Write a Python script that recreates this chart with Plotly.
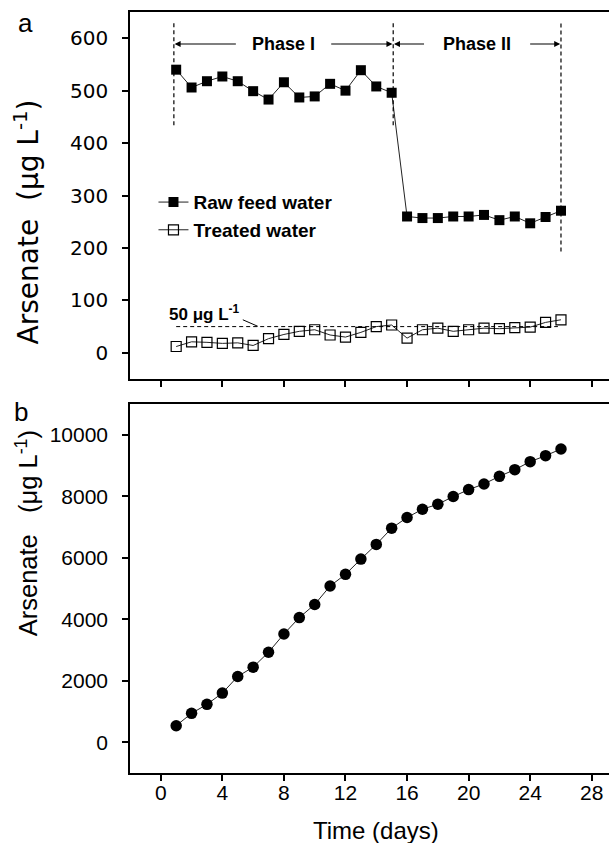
import plotly.graph_objects as go

# ---------------- data ----------------
days = list(range(1, 27))
raw_feed = [540, 506, 518, 527, 518, 499, 483, 516, 487, 489, 513, 500, 539, 508, 496,
            260, 257, 257, 260, 260, 263, 253, 260, 247, 259, 271]
treated = [12, 21, 20, 18, 19, 14, 27, 35, 41, 44, 34, 30, 39, 50, 53,
           28, 44, 47, 41, 44, 47, 46, 48, 49, 58, 63]
cumulative = [538, 940, 1232, 1599, 2140, 2442, 2928, 3520, 4054, 4480, 5081, 5460, 5956,
              6433, 6962, 7308, 7578, 7740, 7990, 8216, 8400, 8648, 8865, 9124, 9319, 9536]
limit_value = 50
phase_bounds = [0.85, 15.1, 26.0]
phase_names = ["Phase I", "Phase II"]
x_ticks = [0, 4, 8, 12, 16, 20, 24, 28]
y_ticks_a = [0, 100, 200, 300, 400, 500, 600]
y_ticks_b = [0, 2000, 4000, 6000, 8000, 10000]

FONT = "Liberation Sans, Arial, sans-serif"
WIDE = "DejaVu Sans, sans-serif"
LINE = "#222222"

fig = go.Figure()

fig.add_trace(go.Scatter(
    x=days, y=raw_feed, mode="lines+markers", name="Raw feed water",
    line=dict(color=LINE, width=1),
    marker=dict(symbol="square", size=10, color="black", line=dict(color="black", width=0)),
    xaxis="x", yaxis="y"))
fig.add_trace(go.Scatter(
    x=days, y=treated, mode="lines+markers", name="Treated water",
    line=dict(color=LINE, width=1),
    marker=dict(symbol="square-open", size=10, color="black", line=dict(color="black", width=1.2)),
    xaxis="x", yaxis="y"))
fig.add_trace(go.Scatter(
    x=days, y=cumulative, mode="lines+markers", showlegend=False,
    line=dict(color=LINE, width=1),
    marker=dict(symbol="circle", size=11.5, color="black"),
    xaxis="x2", yaxis="y2"))

common_x = dict(range=[-2, 29.12], tickvals=x_ticks, ticks="outside", ticklen=6, tickwidth=1.5,
                tickcolor="black", showline=True, linecolor="black", linewidth=1.5,
                mirror=True, showgrid=False, zeroline=False)
common_y = dict(ticks="outside", ticklen=6, tickwidth=1.5, tickcolor="black", showline=True,
                linecolor="black", linewidth=1.5, showgrid=False, zeroline=False,
                ticklabelstandoff=10, tickformat="d")

shapes = []
dash = dict(color="black", width=1.2, dash="4px,3px")
shapes.append(dict(type="line", xref="x", yref="y", x0=phase_bounds[0], x1=phase_bounds[0],
                   y0=434, y1=634, line=dash))
shapes.append(dict(type="line", xref="x", yref="y", x0=phase_bounds[1], x1=phase_bounds[1],
                   y0=434, y1=634, line=dash))
shapes.append(dict(type="line", xref="x", yref="y", x0=phase_bounds[2], x1=phase_bounds[2],
                   y0=193, y1=634, line=dash))
shapes.append(dict(type="line", xref="x", yref="y", x0=1, x1=25.8, y0=limit_value, y1=limit_value,
                   line=dict(color="black", width=1, dash="4px,3px")))
shapes.append(dict(type="line", xref="x", yref="y", x0=5.33, x1=6.3, y0=63, y1=limit_value + 0.6,
                   line=dict(color="black", width=1)))

annotations = []
phase_y = 589
half_gaps = [3.0, 3.35]
for i, name in enumerate(phase_names):
    a, b = phase_bounds[i], phase_bounds[i + 1]
    c = (a + b) / 2
    annotations.append(dict(x=c, y=phase_y, xref="x", yref="y", text="<b>%s</b>" % name,
                            xanchor="center", yanchor="middle",
                            showarrow=False, font=dict(family=FONT, size=18, color="black")))
    annotations.append(dict(x=a + 0.05, y=phase_y, ax=c - half_gaps[i], ay=phase_y, xref="x", yref="y",
                            axref="x", ayref="y", text="", showarrow=True, arrowhead=2,
                            arrowsize=1, arrowwidth=1.2, arrowcolor="black"))
    annotations.append(dict(x=b - 0.05, y=phase_y, ax=c + half_gaps[i], ay=phase_y, xref="x", yref="y",
                            axref="x", ayref="y", text="", showarrow=True, arrowhead=2,
                            arrowsize=1, arrowwidth=1.2, arrowcolor="black"))

annotations.append(dict(x=2.78, y=75, xref="x", yref="y", text="<b>50 μg L<sup>-1</sup></b>",
                        xanchor="center", yanchor="middle",
                        showarrow=False, font=dict(family=FONT, size=17, color="black")))

def paper_note(x, y, text, size, family=FONT, angle=0):
    return dict(x=x, y=y, xref="paper", yref="paper", text=text, showarrow=False,
                xanchor="center", yanchor="middle", textangle=angle,
                font=dict(family=family, size=size, color="black"))

annotations.append(paper_note(-0.219, 0.985, "a", 26))
annotations.append(paper_note(-0.227, 0.474, "b", 26))
annotations.append(paper_note(-0.215, 0.7235, "Arsenate  (μg L<sup>-1</sup>)", 28, WIDE, -90))
annotations.append(paper_note(-0.215, 0.315, "Arsenate   (μg L<sup>-1</sup>)", 25.5, FONT, -90))
annotations.append(paper_note(0.513, -0.075, "Time (days)", 24))

fig.update_layout(
    width=609, height=843,
    margin=dict(l=130, r=0, t=12, b=70),
    plot_bgcolor="white", paper_bgcolor="white",
    xaxis=dict(**common_x, domain=[0, 1], anchor="y", showticklabels=False),
    yaxis=dict(**common_y, domain=[0.5177, 1], anchor="x", range=[-50, 650], tickvals=y_ticks_a,
               tickfont=dict(family=WIDE, size=20, color="black")),
    xaxis2=dict(**common_x, domain=[0, 1], anchor="y2", ticklabelstandoff=-6,
                tickfont=dict(family=FONT, size=21, color="black")),
    yaxis2=dict(**common_y, domain=[0, 0.4849], anchor="x2", range=[-1000, 11000], tickvals=y_ticks_b,
                tickfont=dict(family=FONT, size=21, color="black")),
    legend=dict(x=0.049, y=0.775, xanchor="left", yanchor="top", bgcolor="rgba(0,0,0,0)",
                font=dict(family=FONT, size=19, color="black", weight="bold"),
                tracegroupgap=0, itemwidth=30),
    shapes=shapes, annotations=annotations,
)

fig.write_html("out.html", config={"displayModeBar": False},
               post_script="document.body.style.margin='0';")
